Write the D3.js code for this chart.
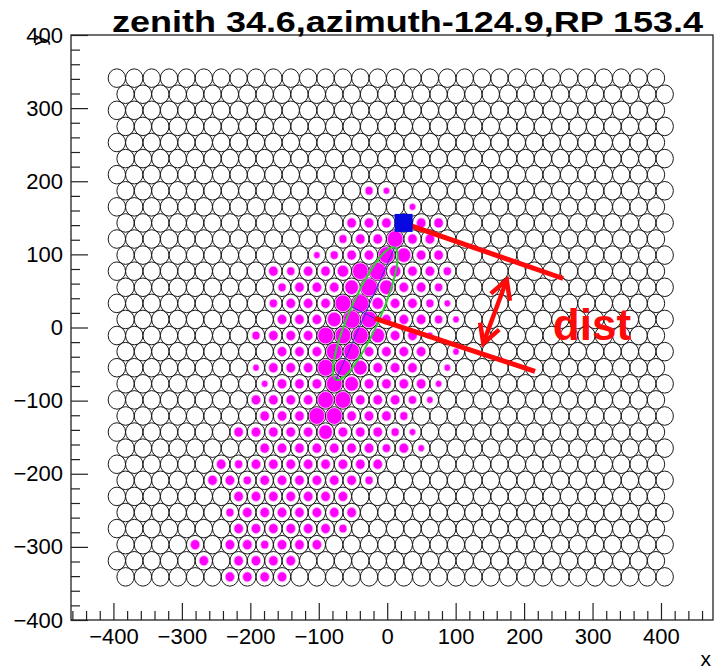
<!DOCTYPE html>
<html><head><meta charset="utf-8">
<script src="https://cdn.jsdelivr.net/npm/d3@7"></script>
<style>body{margin:0;background:#fff}</style>
</head><body>
<svg id="chart" width="718" height="670"></svg>
<script>
// ---------------- data ----------------
const titleText = "zenith 34.6,azimuth-124.9,RP 153.4";
const xTitle = "x", yTitle = "y";
const xDomain = [-462, 476];
const yDomain = [-400, 400];
const xMajorTicks = [-400, -300, -200, -100, 0, 100, 200, 300, 400];
const yMajorTicks = [-400, -300, -200, -100, 0, 100, 200, 300, 400];
const xMinorTicks = d3.range(-460, 461, 20).filter(v => v % 100 !== 0);
const yMinorTicks = d3.range(-380, 381, 20).filter(v => v % 100 !== 0);

// camera pixel grid (hexagonal, alternate rows shifted by half pitch)
const nRows = 32, nCols = 32;
const gridX0 = -395, gridY0 = 341, pitchX = 25.41, pitchY = 22;
const cellRadius = 12.7;
const ampMax = 100;

// hit pixels: [row, column, amplitude (p.e.)]
const hitPixels = [
  [7,14,20],[7,15,13],
  [8,17,13],
  [9,13,28],[9,14,28],[9,15,28],[9,17,28],[9,18,28],
  [10,13,20],[10,14,28],[10,15,28],[10,16,80],[10,17,28],[10,18,28],
  [11,11,13],[11,12,20],[11,13,28],[11,14,28],[11,15,80],[11,16,60],[11,17,28],[11,18,28],
  [12,9,28],[12,10,20],[12,11,28],[12,12,28],[12,13,40],[12,14,80],[12,15,90],[12,16,40],[12,17,28],[12,18,28],[12,19,20],
  [13,9,20],[13,10,28],[13,11,28],[13,12,28],[13,13,60],[13,14,90],[13,15,60],[13,16,28],[13,17,28],[13,18,20],
  [14,9,20],[14,10,28],[14,11,28],[14,12,28],[14,13,80],[14,14,90],[14,15,40],[14,16,28],[14,17,28],[14,18,20],[14,19,13],
  [15,9,28],[15,10,28],[15,11,28],[15,12,60],[15,13,90],[15,14,80],[15,15,28],[15,16,28],[15,17,28],[15,18,20],[15,19,13],
  [16,8,20],[16,9,28],[16,10,28],[16,11,28],[16,12,80],[16,13,80],[16,14,80],[16,15,60],[16,16,28],[16,17,28],[16,18,13],
  [17,9,28],[17,10,28],[17,11,28],[17,12,80],[17,13,80],[17,14,28],[17,15,28],[17,16,28],[17,17,28],[17,19,13],
  [18,8,13],[18,9,28],[18,10,28],[18,11,28],[18,12,80],[18,13,80],[18,14,60],[18,15,28],[18,16,28],[18,17,28],[18,19,13],
  [19,8,13],[19,9,28],[19,10,28],[19,11,28],[19,12,80],[19,13,60],[19,14,28],[19,15,28],[19,16,28],[19,17,28],[19,18,13],
  [20,8,28],[20,9,28],[20,10,28],[20,11,28],[20,12,80],[20,13,80],[20,14,28],[20,15,28],[20,16,28],[20,17,20],[20,18,13],
  [21,8,28],[21,9,28],[21,10,28],[21,11,80],[21,12,80],[21,13,28],[21,14,28],[21,15,28],[21,16,20],
  [22,7,28],[22,8,28],[22,9,28],[22,10,28],[22,11,28],[22,12,60],[22,13,28],[22,14,28],[22,15,28],[22,16,20],[22,17,13],
  [23,8,28],[23,9,28],[23,10,28],[23,11,28],[23,12,28],[23,13,28],[23,14,28],[23,15,20],[23,16,28],[23,17,13],
  [24,6,28],[24,7,20],[24,8,28],[24,9,28],[24,10,28],[24,11,28],[24,12,28],[24,13,28],[24,14,28],[24,15,28],
  [25,5,28],[25,6,28],[25,7,20],[25,8,28],[25,9,28],[25,10,28],[25,11,28],[25,12,28],[25,13,28],[25,14,20],
  [26,7,28],[26,8,28],[26,9,28],[26,10,28],[26,11,28],[26,12,28],[26,13,28],
  [27,6,20],[27,7,28],[27,8,28],[27,9,28],[27,10,28],[27,11,28],[27,12,28],[27,13,28],
  [28,7,28],[28,8,28],[28,9,28],[28,10,28],[28,11,28],[28,12,28],[28,13,20],
  [29,4,28],[29,6,28],[29,7,28],[29,8,20],[29,9,28],[29,10,28],[29,11,28],
  [30,5,28],[30,7,28],[30,8,28],[30,9,28],[30,10,28],
  [31,6,28],[31,7,28],[31,8,28],[31,9,28]
];

// reconstruction overlays (data coordinates)
const sourcePoint = [24, 143];
const ellipseCenter = [-32, 19];
const ellipseAxes = [100, 22];      // semi-major, semi-minor
const ellipseAngleDeg = 64.6;
const distLine1 = [[24.5, 142.5], [257, 67]];
const distLine2 = [[-18, 12.6], [216, -60]];
const distArrow = [[174.6, 65], [140.4, -21.6]];
const distLabel = "dist";
const distLabelPos = [242, -17];

// ---------------- drawing ----------------
const svg = d3.select("#chart");
const frame = {left: 71, right: 713, top: 35, bottom: 620};
const x = d3.scaleLinear().domain(xDomain).range([frame.left, frame.right]);
const y = d3.scaleLinear().domain(yDomain).range([frame.bottom, frame.top]);
const font = "'Liberation Sans', Arial, Helvetica, sans-serif";

svg.append("rect").attr("width", 718).attr("height", 670).attr("fill", "#fff");

const plot = svg.append("g");
plot.append("clipPath").attr("id", "clip").append("rect")
  .attr("x", frame.left).attr("y", frame.top)
  .attr("width", frame.right - frame.left).attr("height", frame.bottom - frame.top);
const inner = plot.append("g").attr("clip-path", "url(#clip)");

function cellCenter(r, c) {
  return [gridX0 + c * pitchX + (r % 2 ? pitchX / 2 : 0), gridY0 - r * pitchY];
}

const cells = [];
for (let r = 0; r < nRows; r++) for (let c = 0; c < nCols; c++) cells.push(cellCenter(r, c));

inner.append("g").selectAll("ellipse").data(cells).join("ellipse")
  .attr("cx", d => x(d[0])).attr("cy", d => y(d[1]))
  .attr("rx", d => x(d[0] + cellRadius) - x(d[0]))
  .attr("ry", d => y(d[1]) - y(d[1] + cellRadius))
  .attr("fill", "none").attr("stroke", "#1a1a1a").attr("stroke-width", 1);

const rScale = d3.scaleSqrt().domain([0, ampMax]).range([0, cellRadius]);
inner.append("g").selectAll("ellipse").data(hitPixels).join("ellipse")
  .each(function(d) {
    const [cx, cy] = cellCenter(d[0], d[1]);
    const rr = rScale(d[2]);
    d3.select(this).attr("cx", x(cx)).attr("cy", y(cy))
      .attr("rx", x(cx + rr) - x(cx)).attr("ry", y(cy) - y(cy + rr));
  })
  .attr("fill", "#ff00ff").attr("stroke", "#ff9cff").attr("stroke-width", 0.8);

// Hillas ellipse
const th = ellipseAngleDeg * Math.PI / 180;
const ellPts = d3.range(0, 2 * Math.PI + 0.01, Math.PI / 90).map(t => {
  const u = ellipseAxes[0] * Math.cos(t), v = ellipseAxes[1] * Math.sin(t);
  return [x(ellipseCenter[0] + u * Math.cos(th) - v * Math.sin(th)),
          y(ellipseCenter[1] + u * Math.sin(th) + v * Math.cos(th))];
});
inner.append("path").attr("d", d3.line()(ellPts))
  .attr("fill", "none").attr("stroke", "#33cc33").attr("stroke-width", 2);
const majA = [ellipseCenter[0] + ellipseAxes[0] * Math.cos(th), ellipseCenter[1] + ellipseAxes[0] * Math.sin(th)];
const majB = [ellipseCenter[0] - ellipseAxes[0] * Math.cos(th), ellipseCenter[1] - ellipseAxes[0] * Math.sin(th)];
const minA = [ellipseCenter[0] - ellipseAxes[1] * Math.sin(th), ellipseCenter[1] + ellipseAxes[1] * Math.cos(th)];
const minB = [ellipseCenter[0] + ellipseAxes[1] * Math.sin(th), ellipseCenter[1] - ellipseAxes[1] * Math.cos(th)];
[[majA, majB], [minA, minB]].forEach(s => {
  inner.append("line").attr("x1", x(s[0][0])).attr("y1", y(s[0][1]))
    .attr("x2", x(s[1][0])).attr("y2", y(s[1][1]))
    .attr("stroke", "#3333cc").attr("stroke-width", 1);
});

// axes
const xAxisMinor = d3.axisBottom(x).tickValues(xMinorTicks).tickSizeInner(-9).tickSizeOuter(0).tickFormat("");
const xAxisMajor = d3.axisBottom(x).tickValues(xMajorTicks).tickSizeInner(-17).tickSizeOuter(0).tickPadding(8);
const yAxisMinor = d3.axisLeft(y).tickValues(yMinorTicks).tickSizeInner(-9).tickSizeOuter(0).tickFormat("");
const yAxisMajor = d3.axisLeft(y).tickValues(yMajorTicks).tickSizeInner(-17).tickSizeOuter(0).tickPadding(8);

function styleAxis(g) {
  g.select(".domain").remove();
  g.selectAll("line").attr("stroke", "#222").attr("stroke-width", 1.2);
  g.selectAll("text").attr("font-family", font).attr("font-size", 22).attr("fill", "#000");
}
svg.append("g").attr("transform", `translate(0,${frame.bottom})`).call(xAxisMinor).call(styleAxis);
svg.append("g").attr("transform", `translate(0,${frame.bottom})`).call(xAxisMajor).call(styleAxis);
svg.append("g").attr("transform", `translate(${frame.left},0)`).call(yAxisMinor).call(styleAxis);
svg.append("g").attr("transform", `translate(${frame.left},0)`).call(yAxisMajor).call(styleAxis);

svg.append("rect").attr("x", frame.left).attr("y", frame.top)
  .attr("width", frame.right - frame.left).attr("height", frame.bottom - frame.top)
  .attr("fill", "none").attr("stroke", "#222").attr("stroke-width", 1.3);

// titles
svg.append("text").attr("x", 112).attr("y", 32)
  .attr("textLength", 591).attr("lengthAdjust", "spacingAndGlyphs")
  .attr("font-family", font).attr("font-weight", "bold").attr("font-size", 30)
  .attr("fill", "#000").text(titleText);
svg.append("text").attr("x", frame.right - 2).attr("y", 666).attr("text-anchor", "end")
  .attr("font-family", font).attr("font-size", 21).text(xTitle);
svg.append("text").attr("transform", `translate(46,${frame.top}) rotate(-90)`).attr("text-anchor", "end")
  .attr("font-family", font).attr("font-size", 21).text(yTitle);

// dist annotation
const red = "#ff0a0a";
[distLine1, distLine2].forEach(s => {
  svg.append("line").attr("x1", x(s[0][0])).attr("y1", y(s[0][1]))
    .attr("x2", x(s[1][0])).attr("y2", y(s[1][1]))
    .attr("stroke", red).attr("stroke-width", 5).attr("stroke-linecap", "butt");
});
const pA = [x(distArrow[0][0]), y(distArrow[0][1])];
const pB = [x(distArrow[1][0]), y(distArrow[1][1])];
svg.append("line").attr("x1", pA[0]).attr("y1", pA[1]).attr("x2", pB[0]).attr("y2", pB[1])
  .attr("stroke", red).attr("stroke-width", 4.5);
function head(tip, from) {
  const dx = from[0] - tip[0], dy = from[1] - tip[1];
  const L = Math.hypot(dx, dy), ux = dx / L, uy = dy / L;
  const len = 21, ang = 29 * Math.PI / 180;
  const rot = a => [tip[0] + len * (ux * Math.cos(a) - uy * Math.sin(a)), tip[1] + len * (ux * Math.sin(a) + uy * Math.cos(a))];
  const l = rot(ang), r = rot(-ang);
  svg.append("path").attr("d", `M${l[0]},${l[1]}L${tip[0]},${tip[1]}L${r[0]},${r[1]}`)
    .attr("fill", "none").attr("stroke", red).attr("stroke-width", 4.5).attr("stroke-linejoin", "miter");
}
head(pA, pB); head(pB, pA);
svg.append("text").attr("x", x(distLabelPos[0])).attr("y", y(distLabelPos[1]))
  .attr("font-family", font).attr("font-weight", "bold").attr("font-size", 44)
  .attr("fill", red).text(distLabel);

// source marker (on top)
svg.append("rect")
  .attr("x", x(sourcePoint[0]) - 9).attr("y", y(sourcePoint[1]) - 9)
  .attr("width", 18).attr("height", 18).attr("fill", "#0808e0");
</script>
</body></html>
